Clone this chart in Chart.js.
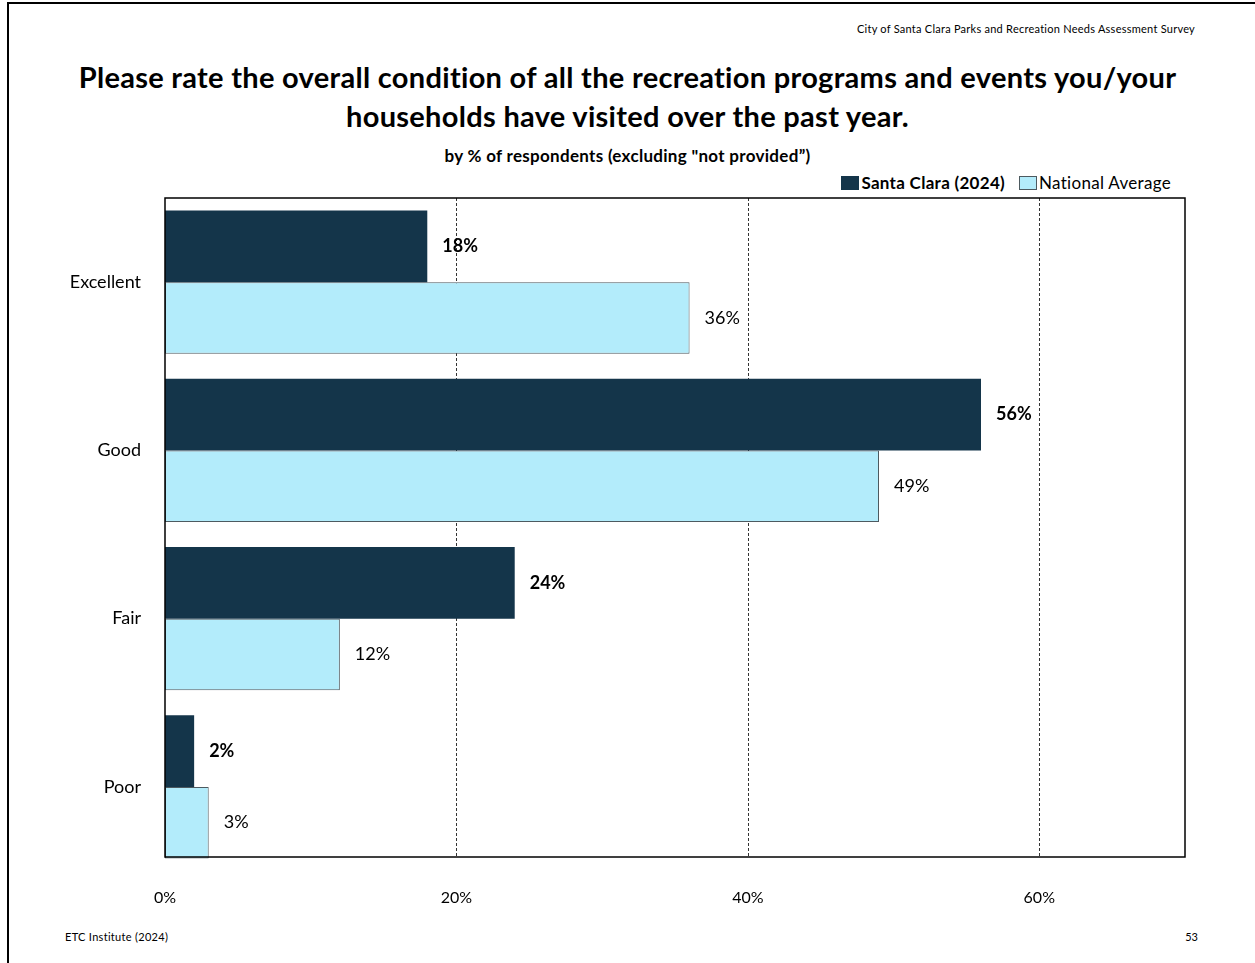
<!DOCTYPE html>
<html>
<head>
<meta charset="utf-8">
<script src="https://cdn.jsdelivr.net/npm/chart.js@4.4.1/dist/chart.umd.min.js"></script>
<style>
  body { margin: 0; background: #fff; font-family: Lato, "Open Sans", sans-serif; }
  #page { position: relative; width: 1255px; height: 963px; overflow: hidden; }
  #frame { position: absolute; left: 7px; top: 2px; width: 1260px; height: 980px; border: 2px solid #000; box-sizing: border-box; }
  .txt { position: absolute; color: #000; white-space: nowrap; }
  #header { right: 60px; top: 22px; font-size: 11px; letter-spacing: 0.25px; }
  #title { left: 0; width: 1255px; top: 57px; text-align: center; font-size: 29px; font-weight: bold; line-height: 39px; letter-spacing: 0.3px; }
  #subtitle { left: 0; width: 1255px; top: 145px; text-align: center; font-size: 17px; font-weight: bold; letter-spacing: 0.3px; }
  #legend { right: 84px; top: 172px; font-size: 17px; display: flex; align-items: center; letter-spacing: 0.3px; }
  .box { width: 18px; height: 14px; display: inline-block; margin-right: 2px; box-sizing: border-box; }
  #footL { left: 65px; top: 930px; font-size: 11px; letter-spacing: 0.3px; }
  #footR { right: 57px; top: 930px; font-size: 11px; }
  canvas { position: absolute; left: 0; top: 0; }
</style>
</head>
<body>
<div id="page">
  <div id="frame"></div>
  <div class="txt" id="header">City of Santa Clara Parks and Recreation Needs Assessment Survey</div>
  <div class="txt" id="title">Please rate the overall condition of all the recreation programs and events you/your<br>households have visited over the past year.</div>
  <div class="txt" id="subtitle">by % of respondents (excluding "not provided”)</div>
  <div class="txt" id="legend">
    <span class="box" style="background:#14354a"></span><b>Santa Clara (2024)</b>
    <span class="box" style="background:#b3ecfb;border:1px solid #4d5a60;margin-left:14px"></span><span>National Average</span>
  </div>
  <div class="txt" id="footL">ETC Institute (2024)</div>
  <div class="txt" id="footR">53</div>
  <canvas id="chart" width="1255" height="963"></canvas>
</div>
<script>
const categorias = ['Excellent', 'Good', 'Fair', 'Poor'];
const santaClara = [18, 56, 24, 2];
const nacional = [36, 49, 12, 3];
const xTicks = [0, 20, 40, 60];
const xMax = 70;

const cores = {
    escuro: '#14354a',
    claro: '#b3ecfb',
    bordaClara: '#4d5a60'
};

// a moldura termina antes do fim da area (como no Excel)
const folgaInferior = 14;

// rotulos de valor ao lado das barras
const rotulos = {
    id: 'rotulos',
    afterDatasetsDraw(chart) {
        const ctx = chart.ctx;
        ctx.save();
        ctx.fillStyle = '#000';
        ctx.textBaseline = 'middle';
        chart.data.datasets.forEach((ds, i) => {
            ctx.font = (i === 0 ? 'bold ' : '') + '18px Lato';
            chart.getDatasetMeta(i).data.forEach((bar, j) => {
                ctx.fillText(ds.data[j] + '%', bar.x + 15, bar.y);
            });
        });
        ctx.restore();
    }
};

// grade tracejada + moldura da area do grafico
const moldura = {
    id: 'moldura',
    beforeDatasetsDraw(chart) {
        const a = chart.chartArea;
        const x = chart.scales.x;
        const ctx = chart.ctx;
        ctx.save();
        ctx.strokeStyle = '#333';
        ctx.lineWidth = 1;
        ctx.setLineDash([3, 2]);
        xTicks.slice(1).forEach(v => {
            const px = Math.round(x.getPixelForValue(v)) + 0.5;
            ctx.beginPath();
            ctx.moveTo(px, a.top);
            ctx.lineTo(px, a.bottom - folgaInferior);
            ctx.stroke();
        });
        ctx.restore();
    },
    afterDraw(chart) {
        const a = chart.chartArea;
        const ctx = chart.ctx;
        ctx.save();
        ctx.strokeStyle = '#000';
        ctx.lineWidth = 1.5;
        ctx.strokeRect(a.left, a.top, a.right - a.left, a.bottom - folgaInferior - a.top);
        ctx.restore();
    }
};

new Chart(document.getElementById('chart'), {
    type: 'bar',
    data: {
        labels: categorias,
        datasets: [{
            label: 'Santa Clara (2024)',
            data: santaClara,
            backgroundColor: cores.escuro,
            borderColor: cores.escuro,
            borderWidth: 0,
            categoryPercentage: 0.851,
            barPercentage: 1
        }, {
            label: 'National Average',
            data: nacional,
            backgroundColor: cores.claro,
            borderColor: cores.bordaClara,
            borderWidth: 1,
            borderSkipped: false,
            categoryPercentage: 0.851,
            barPercentage: 1
        }]
    },
    options: {
        indexAxis: 'y',
        responsive: false,
        animation: false,
        layout: { padding: { top: 198, right: 70, left: 0, bottom: 42 } },
        plugins: {
            legend: { display: false },
            tooltip: { enabled: false }
        },
        scales: {
            x: {
                min: 0,
                max: xMax,
                afterBuildTicks: (scale) => {
                    scale.ticks = xTicks.map(v => ({ value: v }));
                },
                afterFit: (scale) => { scale.height = 50; },
                ticks: {
                    callback: (v) => v + '%',
                    color: '#000',
                    font: { family: 'Lato', size: 16 },
                    padding: 17
                },
                grid: { display: false, drawTicks: false },
                border: { display: false }
            },
            y: {
                afterFit: (scale) => { scale.width = 165; },
                ticks: {
                    color: '#000',
                    font: { family: 'Lato', size: 18 },
                    padding: 24
                },
                grid: { display: false, drawTicks: false },
                border: { display: false }
            }
        }
    },
    plugins: [rotulos, moldura]
});
</script>
</body>
</html>
